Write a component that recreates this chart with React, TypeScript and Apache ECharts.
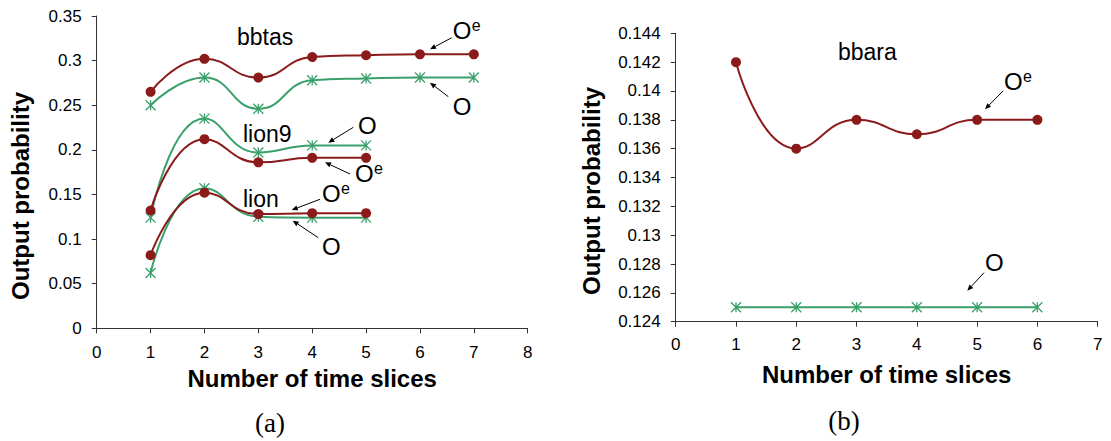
import React, { useEffect, useRef } from "react";
import * as echarts from "echarts";

const FONT = '"Liberation Sans", Arial, sans-serif';
const SERIF = '"Liberation Serif", "Times New Roman", serif';
const RED = "#8b1a1a";
const GREEN = "#3aa06a";

// Panel (a)
const xA = [1, 2, 3, 4, 5, 6, 7];
const bbtasOe = [0.265, 0.302, 0.281, 0.304, 0.306, 0.307, 0.307];
const bbtasO = [0.25, 0.281, 0.246, 0.278, 0.28, 0.281, 0.281];
const lion9Oe = [0.132, 0.212, 0.186, 0.191, 0.191];
const lion9O = [0.124, 0.235, 0.197, 0.205, 0.205];
const lionOe = [0.082, 0.152, 0.128, 0.129, 0.129];
const lionO = [0.062, 0.157, 0.125, 0.124, 0.124];

// Panel (b)
const xB = [1, 2, 3, 4, 5, 6];
const bbaraOe = [0.142, 0.136, 0.138, 0.137, 0.138, 0.138];
const bbaraO = [0.125, 0.125, 0.125, 0.125, 0.125, 0.125];

const STAR = "path://M0,0L10,10M10,0L0,10M5,0L5,10";

function pairs(xs: number[], ys: number[]) {
  return ys.map((v, i) => [xs[i], v]);
}

function mkSeries(name: string, xs: number[], ys: number[], isRed: boolean, idx: number) {
  const c = isRed ? RED : GREEN;
  return {
    name,
    type: "line",
    xAxisIndex: idx,
    yAxisIndex: idx,
    data: pairs(xs, ys),
    smooth: 0.5,
    symbol: isRed ? "circle" : STAR,
    symbolSize: 10,
    lineStyle: { color: c, width: 2 },
    itemStyle: isRed
      ? { color: c }
      : { color: "rgba(0,0,0,0)", borderColor: c, borderWidth: 1.3 },
    z: isRed ? 3 : 2,
  };
}

function label(text: string, x: number, y: number, size: number, family = FONT) {
  return {
    type: "text",
    x,
    y,
    style: {
      text,
      fontSize: size,
      fontFamily: family,
      fill: "#000",
      textAlign: "left",
      textVerticalAlign: "middle",
      verticalAlign: "middle",
    },
  };
}

function centered(text: string, x: number, y: number, size: number, family: string, bold = false, rotation = 0) {
  return {
    type: "text",
    x,
    y,
    rotation,
    style: {
      text,
      fontSize: size,
      fontFamily: family,
      fontWeight: bold ? "bold" : "normal",
      fill: "#000",
      textAlign: "center",
      textVerticalAlign: "middle",
      verticalAlign: "middle",
    },
  };
}

function arrow(x1: number, y1: number, x2: number, y2: number) {
  const dx = x2 - x1;
  const dy = y2 - y1;
  const len = Math.sqrt(dx * dx + dy * dy);
  const ux = dx / len;
  const uy = dy / len;
  const hl = 6;
  const hw = 2.6;
  const bx = x2 - ux * hl;
  const by = y2 - uy * hl;
  return [
    {
      type: "line",
      shape: { x1, y1, x2: bx, y2: by },
      style: { stroke: "#000", lineWidth: 1 },
    },
    {
      type: "polygon",
      shape: {
        points: [
          [x2, y2],
          [bx - uy * hw, by + ux * hw],
          [bx + uy * hw, by - ux * hw],
        ],
      },
      style: { fill: "#000" },
    },
  ];
}

function oLabel(x: number, y: number, withE: boolean) {
  const els: any[] = [label("O", x, y, 24)];
  if (withE) els.push(label("e", x + 19, y - 5, 16));
  return els;
}

function axisCommon(min: number, max: number, interval: number, margin: number, fmt?: (v: number) => string) {
  return {
    type: "value",
    min,
    max,
    interval,
    splitLine: { show: false },
    axisLine: { show: true, onZero: false, lineStyle: { color: "#333", width: 1 } },
    axisTick: { show: true, inside: false, length: 5, lineStyle: { color: "#333" } },
    axisLabel: {
      color: "#000",
      fontSize: 17,
      fontFamily: FONT,
      margin,
      formatter: fmt,
    },
  };
}

const fmtY = (v: number) => String(+v.toFixed(3));
const xTitle = "Number of time slices";
const yTitle = "Output probability";

export default function App() {
  const ref = useRef<HTMLDivElement>(null);
  useEffect(() => {
    if (!ref.current) return;
    const chart = echarts.init(ref.current, null, { renderer: "svg" });
    const nameStyle = { fontSize: 24, fontWeight: "bold", fontFamily: FONT, color: "#000" };
    const option: any = {
      animation: false,
      backgroundColor: "#fff",
      grid: [
        { left: 96.7, top: 16, width: 431, height: 312.3 },
        { left: 675.7, top: 33.3, width: 422, height: 288.4 },
      ],
      xAxis: [
        {
          ...axisCommon(0, 8, 1, 16),
          gridIndex: 0,
          name: xTitle,
          nameLocation: "middle",
          nameGap: 37,
          nameTextStyle: nameStyle,
        },
        {
          ...axisCommon(0, 7, 1, 14),
          gridIndex: 1,
          name: xTitle,
          nameLocation: "middle",
          nameGap: 41,
          nameTextStyle: nameStyle,
        },
      ],
      yAxis: [
        { ...axisCommon(0, 0.35, 0.05, 15, fmtY), gridIndex: 0 },
        { ...axisCommon(0.124, 0.144, 0.002, 15, fmtY), gridIndex: 1 },
      ],
      series: [
        mkSeries("bbtas O", xA, bbtasO, false, 0),
        mkSeries("lion9 O", xA, lion9O, false, 0),
        mkSeries("lion O", xA, lionO, false, 0),
        mkSeries("bbtas Oe", xA, bbtasOe, true, 0),
        mkSeries("lion9 Oe", xA, lion9Oe, true, 0),
        mkSeries("lion Oe", xA, lionOe, true, 0),
        mkSeries("bbara O", xB, bbaraO, false, 1),
        mkSeries("bbara Oe", xB, bbaraOe, true, 1),
      ],
      graphic: [
        centered(yTitle, 20, 196, 24, FONT, true, Math.PI / 2),
        centered(yTitle, 591, 191, 24, FONT, true, Math.PI / 2),
        label("bbtas", 237, 37, 23),
        label("lion9", 243, 134, 23),
        label("lion", 243, 199, 23),
        label("bbara", 838, 52, 23),
        ...oLabel(452.7, 30, true),
        ...arrow(451.7, 37.7, 430, 49.3),
        ...oLabel(452.7, 106, false),
        ...arrow(448.3, 96.7, 430, 82.7),
        ...oLabel(358, 125, false),
        ...arrow(353.3, 127.3, 328.3, 142.7),
        ...oLabel(355, 173.3, true),
        ...arrow(350, 174, 325, 162.3),
        ...oLabel(322, 193.3, true),
        ...arrow(320, 199.3, 291.7, 210),
        ...oLabel(322, 246.7, false),
        ...arrow(318.3, 237.7, 292.7, 220.7),
        ...oLabel(1004, 81, true),
        ...arrow(1003.3, 90.7, 985, 109.3),
        ...oLabel(985, 262.3, false),
        ...arrow(984, 272.7, 967.3, 290.7),
        centered("(a)", 270, 423, 27, SERIF),
        centered("(b)", 844, 421, 27, SERIF),
      ],
    };
    chart.setOption(option);
    return () => chart.dispose();
  }, []);
  return (
    <div
      ref={ref}
      style={{ position: "absolute", left: 0, top: 0, width: 1111, height: 441, background: "#fff" }}
    />
  );
}
